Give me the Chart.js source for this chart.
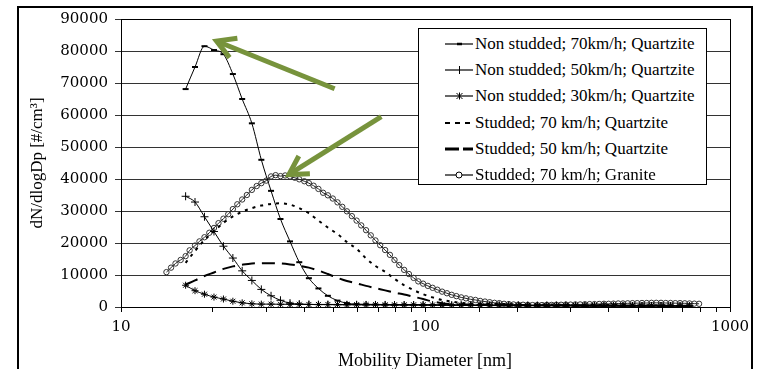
<!DOCTYPE html>
<html>
<head>
<meta charset="utf-8">
<script src="https://cdn.jsdelivr.net/npm/chart.js@4.4.1/dist/chart.umd.min.js"></script>
<style>
  html, body { margin: 0; padding: 0; background: #fff; overflow: hidden; }
  #wrap { position: relative; width: 758px; height: 369px; overflow: hidden; }
  #frame { position: absolute; left: 17px; top: 6px; width: 736px; height: 420px;
           border: 2px solid #000; box-sizing: border-box; }
  canvas { position: absolute; left: 0; top: 0; }
  .txt { position: absolute; font-family: "Liberation Serif", serif; color: #000; white-space: nowrap; }
  #ytitle { left: -63px; top: 153px; width: 200px; height: 20px; line-height: 20px;
            font-size: 17px; text-align: center; transform: rotate(-90deg); }
  #xtitle { left: 275px; top: 351px; width: 300px; line-height: 18px; font-size: 18px; text-align: center; }
  #legend { position: absolute; left: 418px; top: 28px; width: 289px; height: 157px;
            border: 1px solid #000; background: #fff; box-sizing: border-box; }
  #legend .row { position: absolute; left: 0; height: 26px; width: 287px; }
  #legend svg { position: absolute; left: 26px; top: 7px; }
  #legend span { position: absolute; left: 56px; top: 0; line-height: 26px; font-size: 17px; }
</style>
</head>
<body>
<div id="wrap">
  <div id="frame"></div>
  <canvas id="chart" width="758" height="369"></canvas>
  <div id="ytitle" class="txt">dN/dlogDp [#/cm³]</div>
  <div id="xtitle" class="txt">Mobility Diameter [nm]</div>
  <div id="legend"></div>
</div>
<script>
// mobility diameter bins [nm], 64 per decade (granite run) and every second bin (other runs)
const dpFine = [14.1, 14.6, 15.1, 15.7, 16.3, 16.8, 17.5, 18.1, 18.8, 19.5,
  20.2, 20.9, 21.7, 22.5, 23.3, 24.1, 25.0, 25.9, 26.9, 27.9,
  28.9, 30.0, 31.1, 32.2, 33.4, 34.6, 35.9, 37.2, 38.5, 40.0,
  41.4, 42.9, 44.5, 46.1, 47.8, 49.6, 51.4, 53.3, 55.2, 57.3,
  59.4, 61.5, 63.8, 66.1, 68.5, 71.0, 73.7, 76.4, 79.1, 82.0,
  85.1, 88.2, 91.4, 94.7, 98.2, 101.8, 105.5, 109.4, 113.4, 117.6,
  121.9, 126.3, 131.0, 135.8, 140.7, 145.9, 151.2, 156.8, 162.5, 168.5,
  174.7, 181.1, 187.7, 194.6, 201.7, 209.1, 216.7, 224.7, 232.9, 241.4,
  250.3, 259.5, 269.0, 278.8, 289.0, 299.6, 310.6, 322.0, 333.8, 346.0,
  358.7, 371.8, 385.4, 399.5, 414.2, 429.4, 445.1, 461.4, 478.3, 495.8,
  514.0, 532.8, 552.3, 572.5, 593.5, 615.3, 637.8, 661.2, 685.4, 710.5,
  736.5, 763.5, 791.5];

const dpCoarse = [16.3, 17.5, 18.8, 20.2, 21.7, 23.3, 25.0, 26.9, 28.9, 31.1,
  33.4, 35.9, 38.5, 41.4, 44.5, 47.8, 51.4, 55.2, 59.4, 63.8,
  68.5, 73.7, 79.1, 85.1, 91.4, 98.2, 105.5, 113.4, 121.9, 131.0,
  140.7, 151.2, 162.5, 174.7, 187.7, 201.7, 216.7, 232.9, 250.3, 269.0,
  289.0, 310.6, 333.8, 358.7, 385.4, 414.2, 445.1, 478.3, 514.0, 552.3,
  593.5, 637.8, 685.4, 736.5];

const seriesNames = [
  'Non studded; 70km/h; Quartzite',
  'Non studded; 50km/h; Quartzite',
  'Non studded; 30km/h; Quartzite',
  'Studded; 70 km/h; Quartzite',
  'Studded; 50 km/h; Quartzite',
  'Studded; 70 km/h; Granite'
];

// dN/dlogDp [#/cm3]
const nonStud70 = [68100, 75000, 81500, 80300, 79000, 72800, 65000, 57400, 46000, 36300,
  27500, 20500, 14000, 9000, 5800, 3500, 2000, 1200, 900,
  850, 800, 800, 750, 750, 700, 700, 650, 650, 600, 600, 550, 550, 500, 500,
  500, 450, 450, 450, 400, 400, 400, 400, 350, 350, 350, 350, 300, 300, 300,
  300, 300, 250, 250, 250];

const nonStud50 = [34600, 32800, 28200, 23600, 19000, 15300, 11300, 8300, 5500, 3500,
  2100, 1200, 900,
  800, 750, 750, 700, 700, 700, 650, 650, 650, 600, 600, 600, 550, 550, 550,
  500, 500, 500, 500, 450, 450, 450, 450, 400, 400, 400, 400, 400, 350, 350,
  350, 350, 350, 300, 300, 300, 300, 300, 300, 250, 250];

const nonStud30 = [6800, 5100, 4000, 3100, 2500, 1800, 1300, 1000, 900, 900, 850,
  850, 850, 800, 800, 800, 800, 750, 750, 750, 750, 700, 700, 700, 700, 700,
  650, 650, 650, 650, 650, 600, 600, 600, 600, 600, 550, 550, 550, 550, 550,
  500, 500, 500, 500, 500, 450, 450, 450, 450, 450, 400, 400, 400];

const stud70 = [13800, 17500, 20900, 23700, 26300, 28300, 29800, 30900, 31700, 32200,
  32400, 32000, 30900, 29300, 27000, 24800, 22800, 20300, 18200, 15200,
  12800, 11000, 8800, 6800, 5300, 4000, 3000, 2200, 1700, 1300, 1100,
  1000, 950, 900, 900, 850, 800, 800, 750, 750, 700, 700, 650, 650, 650,
  600, 600, 600, 550, 550, 550, 500, 500, 500];

const stud50 = [7000, 8300, 9700, 10800, 11900, 12700, 13200, 13600, 13700, 13700,
  13600, 13300, 12900, 12300, 11400, 10300, 9100, 8100, 7400, 6600,
  5900, 5200, 4500, 3900, 3200, 2500, 1700, 1200, 900,
  800, 750, 700, 700, 650, 650, 600, 600, 600, 550, 550, 550, 500, 500, 500,
  500, 450, 450, 450, 450, 400, 400, 400, 400, 400];

const studGranite = [10900, 12300, 13600, 14700, 15900, 17700, 19200, 20500, 21800, 23200,
  24700, 26200, 27600, 29000, 30600, 32100, 33600, 35000, 36600, 37800,
  38700, 39500, 40800, 41200, 40900, 41100, 40800, 40400, 39900, 39300,
  38700, 37900, 36900, 35700, 34900, 33900, 32700, 31300, 29900, 28400,
  27000, 25500, 24000, 22400, 20800, 19300, 17800, 16300, 14700, 13100,
  11600, 10300, 9100, 8000, 7300, 6600, 6000, 5400, 4800, 4300,
  3800, 3400, 3000, 2700, 2400, 2200, 1900, 1700, 1500, 1300,
  1200, 1000, 900, 800, 700, 700, 650, 600, 600, 600,
  650, 650, 700, 700, 750, 750, 800, 800, 850, 900,
  900, 950, 1000, 1000, 1050, 1100, 1100, 1150, 1200, 1200,
  1250, 1250, 1300, 1300, 1300, 1250, 1250, 1200, 1200, 1150,
  1100, 1050, 1000];

const yTicks = [0, 10000, 20000, 30000, 40000, 50000, 60000, 70000, 80000, 90000];
const xTickLabels = [10, 100, 1000];

// green call-out arrows, in data units: [diameter, dN/dlogDp]
const arrows = [
  { from: [50.3, 68200], to: [20.6, 83100] },
  { from: [71.6, 59500], to: [35.6, 41400] }
];

const pts = (xs, ys) => xs.map((x, i) => ({ x: x, y: ys[i] }));

const frameBox = {
  id: 'frameBox',
  beforeDatasetsDraw(chart) {
    const { ctx, chartArea: a } = chart;
    ctx.save();
    ctx.strokeStyle = '#000';
    ctx.lineWidth = 1;
    ctx.strokeRect(a.left + 0.5, a.top + 0.5, a.right - a.left, a.bottom - a.top);
    ctx.restore();
  }
};

const calloutArrows = {
  id: 'calloutArrows',
  afterDraw(chart) {
    const { ctx, scales } = chart;
    ctx.save();
    ctx.strokeStyle = '#77933C';
    ctx.lineWidth = 5;
    ctx.lineCap = 'butt';
    ctx.lineJoin = 'miter';
    arrows.forEach(a => {
      const x0 = scales.x.getPixelForValue(a.from[0]);
      const y0 = scales.y.getPixelForValue(a.from[1]);
      const x1 = scales.x.getPixelForValue(a.to[0]);
      const y1 = scales.y.getPixelForValue(a.to[1]);
      const ang = Math.atan2(y0 - y1, x0 - x1);
      ctx.beginPath();
      ctx.moveTo(x0, y0);
      ctx.lineTo(x1 + 3 * Math.cos(ang), y1 + 3 * Math.sin(ang));
      ctx.stroke();
      const len = 21, spread = 0.52;
      ctx.beginPath();
      ctx.moveTo(x1 + len * Math.cos(ang - spread), y1 + len * Math.sin(ang - spread));
      ctx.lineTo(x1, y1);
      ctx.lineTo(x1 + len * Math.cos(ang + spread), y1 + len * Math.sin(ang + spread));
      ctx.stroke();
    });
    ctx.restore();
  }
};

const tickFont = { family: 'DejaVu Serif', size: 15 };

new Chart(document.getElementById('chart'), {
  type: 'line',
  data: {
    datasets: [
      { label: seriesNames[0], data: pts(dpCoarse, nonStud70), borderColor: '#000', borderWidth: 1,
        pointStyle: 'line', pointRadius: 3, pointBorderWidth: 2, pointBorderColor: '#000' },
      { label: seriesNames[1], data: pts(dpCoarse, nonStud50), borderColor: '#000', borderWidth: 1,
        pointStyle: 'cross', pointRadius: 4, pointBorderWidth: 1, pointBorderColor: '#000' },
      { label: seriesNames[2], data: pts(dpCoarse, nonStud30), borderColor: '#000', borderWidth: 1,
        pointStyle: 'star', pointRadius: 3.5, pointBorderWidth: 1, pointBorderColor: '#000' },
      { label: seriesNames[3], data: pts(dpCoarse, stud70), borderColor: '#000', borderWidth: 2,
        borderDash: [3, 5], pointRadius: 0 },
      { label: seriesNames[4], data: pts(dpCoarse, stud50), borderColor: '#000', borderWidth: 2,
        borderDash: [13, 7], pointRadius: 0 },
      { label: seriesNames[5], data: pts(dpFine, studGranite), borderColor: '#222', borderWidth: 1,
        pointStyle: 'circle', pointRadius: 2.7, pointBorderWidth: 1, pointBorderColor: '#333',
        pointBackgroundColor: 'rgba(255,255,255,0)' }
    ]
  },
  options: {
    responsive: false,
    animation: false,
    cubicInterpolationMode: 'monotone',
    layout: { padding: { top: 19, right: 28, left: 0, bottom: 0 } },
    plugins: { legend: { display: false }, tooltip: { enabled: false } },
    scales: {
      x: {
        type: 'logarithmic',
        min: 10,
        max: 1000,
        border: { color: '#000', width: 1 },
        grid: { drawOnChartArea: false, drawTicks: true, tickLength: 5, color: '#000' },
        ticks: {
          autoSkip: false, maxRotation: 0, padding: 6, color: '#000', font: tickFont,
          callback: v => xTickLabels.includes(v) ? String(v) : ''
        },
        afterFit: s => { s.height = 62; }
      },
      y: {
        min: 0,
        max: 90000,
        border: { color: '#000', width: 1 },
        grid: { color: '#333', tickLength: 6 },
        afterBuildTicks: s => { s.ticks = yTicks.map(v => ({ value: v })); },
        ticks: { padding: 7, color: '#000', font: tickFont, callback: v => String(v) },
        afterFit: s => { s.width = 121; }
      }
    }
  },
  plugins: [frameBox, calloutArrows]
});

// legend with hand-drawn line samples
const samples = [
  '<line x1="0" y1="6" x2="28" y2="6" stroke="#000" stroke-width="1.2"/><line x1="12" y1="6" x2="17" y2="6" stroke="#000" stroke-width="2.5"/>',
  '<line x1="0" y1="6" x2="28" y2="6" stroke="#000" stroke-width="1.2"/><line x1="14.5" y1="2" x2="14.5" y2="10" stroke="#000" stroke-width="1"/>',
  '<line x1="0" y1="6" x2="28" y2="6" stroke="#000" stroke-width="1.2"/><line x1="11.5" y1="3" x2="17.5" y2="9" stroke="#000"/><line x1="11.5" y1="9" x2="17.5" y2="3" stroke="#000"/><line x1="14.5" y1="2.5" x2="14.5" y2="9.5" stroke="#000"/>',
  '<line x1="0" y1="6" x2="26" y2="6" stroke="#000" stroke-width="2" stroke-dasharray="5 5"/>',
  '<line x1="0" y1="6" x2="28" y2="6" stroke="#000" stroke-width="3" stroke-dasharray="14 4"/>',
  '<line x1="0" y1="6" x2="28" y2="6" stroke="#000" stroke-width="1.2"/><circle cx="14" cy="6" r="3" fill="#fff" stroke="#000" stroke-width="1"/>'
];
const legend = document.getElementById('legend');
seriesNames.forEach((name, i) => {
  const row = document.createElement('div');
  row.className = 'row';
  row.style.top = (2 + 26.2 * i) + 'px';
  row.innerHTML = '<svg width="30" height="12">' + samples[i] + '</svg><span class="txt">' + name + '</span>';
  legend.appendChild(row);
});
</script>
</body>
</html>
